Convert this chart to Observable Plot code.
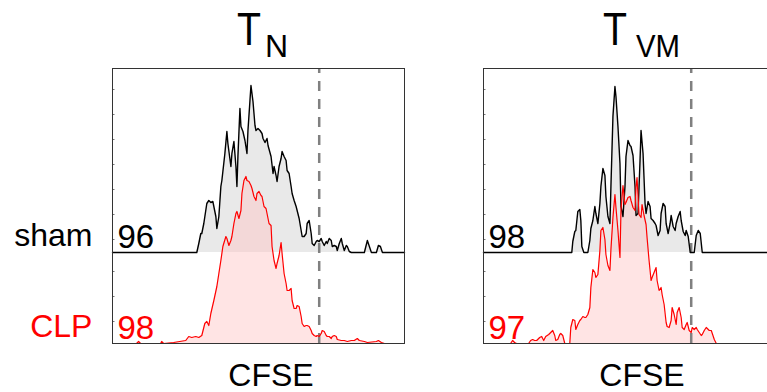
<!DOCTYPE html>
<html>
<head>
<meta charset="utf-8">
<script src="https://cdn.jsdelivr.net/npm/d3@7"></script>
<script src="https://cdn.jsdelivr.net/npm/@observablehq/plot@0.6"></script>
<style>
  html, body { margin: 0; padding: 0; background: #fff; }
  #chart { width: 767px; height: 392px; overflow: hidden; position: relative; }
  #chart svg { display: block; max-width: none !important; width: 800px; height: 392px; }
</style>
</head>
<body>
<div id="chart"></div>
<script>
// ---- data ----
const panels = ["TN", "TVM"];
const titleMain = ["T", "T"];
const titleSub = ["N", "VM"];
const rowLabels = ["sham", "CLP"];
const shamPercent = [96, 98];
const clpPercent = [98, 97];
const gateCFSE = [206, 207];
const axisLabel = "CFSE";

// [CFSE channel, count]
const shamTN = [[0,0],[84,0],[86,9],[88,19],[89,19],[91,29],[94,49],[96,52],[98,50],[100,51],[103,36],[104,24],[106,36],[108,66],[109,72],[112,99],[114,121],[115,109],[118,86],[119,99],[121,111],[123,86],[124,66],[125,96],[127,144],[128,126],[130,121],[132,112],[134,99],[135,122],[137,152],[138,167],[140,151],[142,127],[143,122],[145,124],[147,122],[149,119],[150,114],[152,110],[154,114],[155,107],[158,96],[160,79],[161,86],[163,77],[164,71],[166,86],[168,94],[169,101],[171,96],[173,92],[174,82],[176,79],[178,66],[179,59],[181,52],[183,46],[184,42],[186,34],[188,22],[189,16],[191,16],[193,19],[194,29],[196,32],[198,19],[199,9],[201,7],[203,11],[204,12],[206,11],[208,14],[209,11],[211,7],[213,11],[214,9],[216,14],[218,12],[219,6],[221,7],[223,6],[224,2],[226,9],[228,14],[229,9],[231,2],[233,7],[234,6],[236,1],[238,0],[251,0],[254,12],[256,6],[258,0],[263,0],[265,7],[267,6],[269,0],[291,0]];

const clpTN = [[0,0],[24,0],[26,2],[28,0],[48,0],[49,2],[51,0],[61,1],[73,3],[76,7],[79,6],[83,7],[86,6],[89,8],[92,20],[94,22],[96,18],[98,30],[101,43],[104,57],[106,70],[108,83],[110,97],[113,107],[114,105],[116,98],[118,103],[119,107],[121,120],[123,130],[124,132],[126,125],[128,133],[129,150],[131,163],[133,167],[134,163],[136,162],[138,158],[139,155],[141,147],[143,143],[144,150],[146,152],[148,148],[149,147],[151,137],[153,135],[154,130],[156,120],[158,118],[159,97],[161,83],[163,75],[164,80],[166,88],[168,101],[169,90],[171,70],[173,60],[174,53],[176,53],[178,55],[179,43],[181,35],[183,35],[184,38],[186,37],[188,27],[189,20],[191,17],[193,18],[194,18],[196,17],[198,13],[199,10],[201,8],[203,7],[204,8],[206,7],[208,10],[209,13],[211,12],[213,8],[214,7],[216,7],[218,5],[219,7],[221,8],[223,7],[224,4],[228,3],[231,3],[234,2],[238,3],[241,3],[244,5],[246,3],[251,2],[254,1],[263,2],[265,3],[268,1],[271,0],[291,0]];

const shamTVM = [[0,0],[88,0],[89,11],[91,21],[92,22],[94,41],[96,43],[97,32],[98,6],[100,0],[104,0],[106,12],[107,24],[109,32],[111,46],[112,39],[114,29],[116,49],[117,66],[119,84],[121,77],[122,56],[124,36],[126,29],[127,66],[129,136],[131,166],[132,156],[134,126],[136,89],[137,46],[139,36],[141,66],[142,96],[144,112],[146,107],[147,106],[149,97],[151,66],[152,37],[154,39],[156,92],[157,122],[159,99],[161,49],[162,39],[164,51],[166,46],[167,34],[169,32],[171,29],[172,27],[174,17],[176,22],[177,39],[179,49],[181,46],[182,29],[184,19],[186,29],[187,37],[189,26],[191,22],[192,29],[194,36],[196,41],[197,32],[199,21],[201,17],[202,22],[204,16],[206,0],[210,0],[212,17],[214,22],[216,19],[218,0],[291,0]];

const clpTVM = [[0,0],[27,0],[29,3],[31,1],[33,0],[45,0],[47,3],[49,4],[51,3],[53,3],[56,6],[58,7],[60,3],[62,7],[65,9],[67,11],[69,13],[71,8],[72,3],[74,4],[76,9],[77,10],[79,8],[81,0],[86,0],[87,16],[89,24],[91,23],[92,14],[94,19],[96,23],[97,24],[99,27],[101,26],[102,26],[104,29],[106,36],[107,56],[109,74],[111,71],[112,66],[114,69],[116,93],[117,113],[119,116],[121,104],[122,89],[124,78],[126,73],[127,94],[129,126],[131,149],[132,136],[134,113],[136,86],[137,133],[139,158],[141,139],[142,141],[144,146],[146,147],[147,143],[149,136],[151,133],[152,156],[153,166],[155,129],[157,126],[158,139],[160,128],[162,119],[163,106],[165,83],[167,63],[168,66],[170,71],[172,76],[173,63],[175,53],[177,56],[178,49],[180,39],[182,21],[183,17],[185,16],[187,23],[188,36],[190,29],[192,19],[193,31],[195,36],[197,26],[198,16],[200,14],[202,19],[203,21],[205,13],[207,11],[208,16],[210,14],[212,16],[213,14],[215,11],[217,8],[218,9],[220,13],[222,16],[223,15],[225,13],[227,13],[228,10],[230,4],[232,0],[291,0]];

// ---- build table ----
const SHAM_BASE = 91; // sham histogram is offset above the CLP one
const series = [
  {panel: panels[0], group: rowLabels[0], pts: shamTN},
  {panel: panels[0], group: rowLabels[1], pts: clpTN},
  {panel: panels[1], group: rowLabels[0], pts: shamTVM},
  {panel: panels[1], group: rowLabels[1], pts: clpTVM}
];
const rows = series.flatMap(s => {
  const base = s.group === "sham" ? SHAM_BASE : 0;
  return s.pts.map(([x, c]) => ({panel: s.panel, group: s.group, key: s.panel + s.group, x, base, y: base + c}));
});
const shamRows = rows.filter(d => d.group === "sham");
const clpRows = rows.filter(d => d.group === "CLP");

const pctRows = panels.flatMap((p, i) => [
  {panel: p, group: "sham", text: String(shamPercent[i])},
  {panel: p, group: "CLP", text: String(clpPercent[i])}
]);
const gateRows = panels.map((p, i) => ({panel: p, x: gateCFSE[i]}));
const titleRows = panels.map((p, i) => ({panel: p, main: titleMain[i], sub: titleSub[i]}));
const mainX = {TN: 136, TVM: 131};
const subX = {TN: 152, TVM: 152};
const labelRows = [
  {panel: panels[0], text: rowLabels[0], y: SHAM_BASE + 7},
  {panel: panels[0], text: rowLabels[1], y: 7}
];
const leftTicks = [22, 47, 72, SHAM_BASE + 13, SHAM_BASE + 38, SHAM_BASE + 63, SHAM_BASE + 88, SHAM_BASE + 113, SHAM_BASE + 138, SHAM_BASE + 163];

const font = "'Liberation Sans', Arial, Helvetica, sans-serif";

const chart = Plot.plot({
  width: 800,
  height: 392,
  marginTop: 68,
  marginBottom: 49,
  marginLeft: 112,
  marginRight: 25,
  style: {fontFamily: font, background: "#fff", overflow: "visible"},
  fx: {domain: panels, paddingInner: 79 / 371, paddingOuter: 0, axis: null, label: null},
  x: {domain: [0, 291], axis: null},
  y: {domain: [0, 275], axis: null},
  marks: [
    Plot.areaY(shamRows, {x: "x", y1: "base", y2: "y", z: "key", fx: "panel", fill: "#e9e9e9", curve: "linear"}),
    Plot.areaY(clpRows, {x: "x", y1: "base", y2: "y", z: "key", fx: "panel", fill: "#ffc4c4", fillOpacity: 0.45, curve: "linear"}),
    Plot.ruleX(gateRows, {x: "x", y1: 0, y2: 275, fx: "panel", stroke: "#808080", strokeWidth: 2.5, strokeDasharray: "10,8"}),
    Plot.lineY(shamRows, {x: "x", y: "y", z: "key", fx: "panel", stroke: "#000", strokeWidth: 1.4, curve: "linear"}),
    Plot.lineY(clpRows, {x: "x", y: "y", z: "key", fx: "panel", stroke: "#ff0000", strokeWidth: 1.2, curve: "linear"}),
    Plot.ruleY(leftTicks, {y: d => d, x1: 0, x2: 2.5, stroke: "#777", strokeWidth: 1}),
    Plot.frame({stroke: "#333", strokeWidth: 1}),
    Plot.text(pctRows, {
      x: 5, y: d => d.group === "sham" ? SHAM_BASE + 5 : 5, fx: "panel", text: "text",
      fill: d => d.group === "sham" ? "#000" : "#ff0000",
      textAnchor: "start", lineAnchor: "bottom", fontSize: 33
    }),
    Plot.text(labelRows, {
      x: -20, y: "y", fx: "panel", text: "text",
      fill: d => d.text === "sham" ? "#000" : "#ff0000",
      textAnchor: "end", lineAnchor: "bottom", fontSize: 32
    }),
    Plot.text(titleRows, {x: d => mainX[d.panel], y: 299, fx: "panel", text: "main", textAnchor: "middle", lineAnchor: "bottom", fontSize: 46, fill: "#000"}),
    Plot.text(titleRows, {x: d => subX[d.panel], y: 287, fx: "panel", text: "sub", textAnchor: "start", lineAnchor: "bottom", fontSize: 32, fill: "#000"}),
    Plot.text(panels, {x: 158, y: -42, fx: d => d, text: () => axisLabel, textAnchor: "middle", lineAnchor: "bottom", fontSize: 32, fill: "#000"})
  ]
});
// narrower title glyphs, as in the reference typeface
d3.select(chart).selectAll("text").each(function () {
  const t = this.textContent;
  if (t === "T") { this.setAttribute("textLength", 24); this.setAttribute("lengthAdjust", "spacingAndGlyphs"); }
  if (t === "VM") { this.setAttribute("textLength", 44); this.setAttribute("lengthAdjust", "spacingAndGlyphs"); }
});
document.getElementById("chart").appendChild(chart);
</script>
</body>
</html>
